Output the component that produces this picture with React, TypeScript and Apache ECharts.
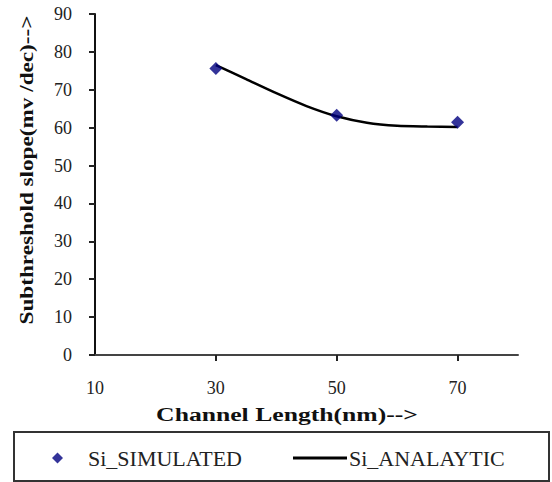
import React, { useEffect, useRef } from "react";
import * as echarts from "echarts";

const xTicks = [10, 30, 50, 70];
const simulatedX = [30, 50, 70];
const simulatedY = [75.6, 63.3, 61.4];
const analyticX = [30, 35, 40, 45, 50, 55, 60, 65, 70];
const analyticY = [76.5, 72.8, 69.1, 65.7, 63.0, 61.3, 60.5, 60.3, 60.2];
const seriesNames = ["Si_SIMULATED", "Si_ANALAYTIC"];
const xTitle = "Channel Length(nm)-->";
const yTitle = "Subthreshold slope(mv /dec)-->";

const FONT = "'Liberation Serif', 'Times New Roman', serif";

export default function App() {
  const ref = useRef<HTMLDivElement>(null);
  useEffect(() => {
    if (!ref.current) return;
    const chart = echarts.init(ref.current, null, { renderer: "svg" });
    chart.setOption({
      animation: false,
      backgroundColor: "#ffffff",
      grid: { left: 95, right: 34, top: 14, bottom: 127, containLabel: false },
      xAxis: {
        type: "value",
        min: 10,
        max: 80,
        interval: 10,
        axisLine: { show: true, lineStyle: { color: "#444", width: 2 } },
        axisTick: {
          show: true,
          length: 6,
          customValues: [30, 50, 70],
          lineStyle: { color: "#222", width: 2 },
        },
        axisLabel: {
          customValues: xTicks,
          margin: 24,
          fontSize: 18,
          fontFamily: FONT,
          color: "#222",
        },
        splitLine: { show: false },
      },
      yAxis: {
        type: "value",
        min: 0,
        max: 90,
        interval: 10,
        axisLine: { show: true, lineStyle: { color: "#111", width: 2 } },
        axisTick: { show: true, length: 6, lineStyle: { color: "#222", width: 2 } },
        axisLabel: { margin: 23, fontSize: 18, fontFamily: FONT, color: "#222" },
        splitLine: { show: false },
      },
      legend: [
        {
          data: [{ name: seriesNames[0], icon: "diamond" }],
          left: 52,
          top: 447,
          padding: 0,
          itemWidth: 11,
          itemHeight: 11,
          textStyle: { fontSize: 22, fontFamily: FONT, color: "#222", padding: [0, 0, 0, 20] },
        },
        {
          data: [
            {
              name: seriesNames[1],
              icon: "path://M0,0 L54,0 L54,3 L0,3 Z",
            },
          ],
          left: 293,
          top: 447,
          padding: 0,
          itemWidth: 54,
          itemHeight: 3,
          textStyle: { fontSize: 22, fontFamily: FONT, color: "#222", padding: [0, 0, 0, -3] },
        },
      ],
      series: [
        {
          name: seriesNames[1],
          type: "line",
          data: analyticX.map((x, i) => [x, analyticY[i]]),
          smooth: 0.25,
          showSymbol: false,
          symbol: "none",
          lineStyle: { color: "#000", width: 2.5 },
          itemStyle: { color: "#000" },
          z: 2,
        },
        {
          name: seriesNames[0],
          type: "scatter",
          data: simulatedX.map((x, i) => [x, simulatedY[i]]),
          symbol: "diamond",
          symbolSize: 13,
          itemStyle: { color: "#000080" },
          z: 3,
        },
      ],
      graphic: [
        {
          type: "rect",
          shape: { x: 14, y: 432, width: 535, height: 49 },
          style: { fill: "none", stroke: "#333", lineWidth: 2 },
          z: -1,
        },
        {
          type: "text",
          x: 287,
          y: 415,
          scaleX: 1.35,
          style: {
            text: xTitle,
            font: `bold 19px ${FONT}`,
            fill: "#111",
            textAlign: "center",
            textVerticalAlign: "middle",
          },
        },
        {
          type: "text",
          x: 27,
          y: 170,
          rotation: Math.PI / 2,
          scaleX: 1.22,
          style: {
            text: yTitle,
            font: `bold 19px ${FONT}`,
            fill: "#111",
            textAlign: "center",
            textVerticalAlign: "middle",
          },
        },
      ],
    });
    return () => chart.dispose();
  }, []);
  return (
    <div
      ref={ref}
      style={{ position: "fixed", left: 0, top: 0, width: 552, height: 482 }}
    />
  );
}
